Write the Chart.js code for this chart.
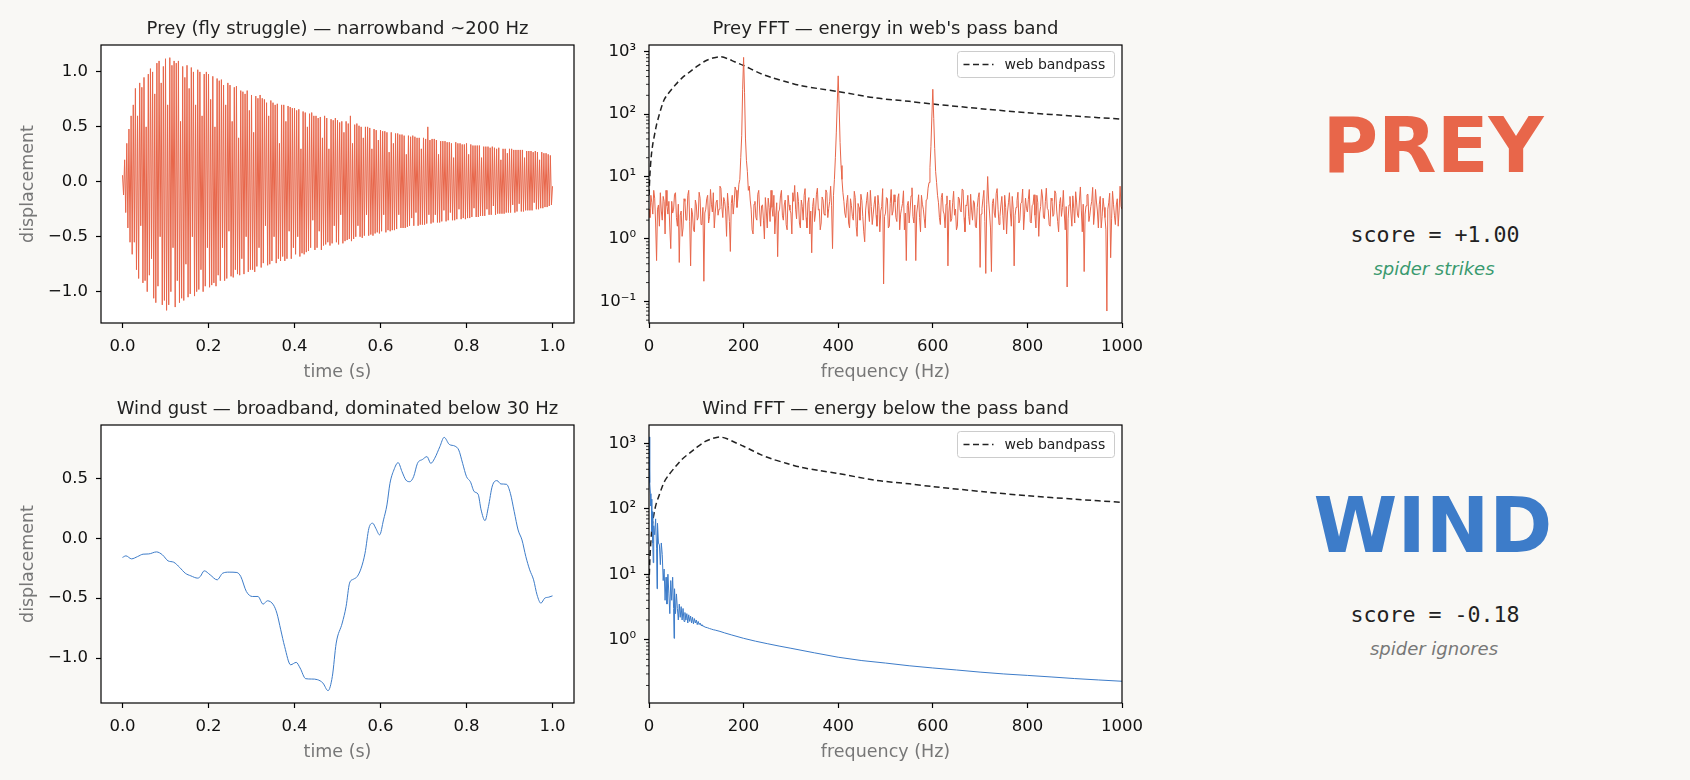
<!DOCTYPE html>
<html>
<head>
<meta charset="utf-8">
<script src="https://cdn.jsdelivr.net/npm/chart.js@4.4.0/dist/chart.umd.min.js"></script>
<style>
  body { margin: 0; width: 1690px; height: 780px; overflow: hidden; position: relative; background: #f9f8f5; font-family: "DejaVu Sans", sans-serif; }
  canvas { position: absolute; }
  .txt { position: absolute; white-space: nowrap; line-height: 1; transform: translateX(-50%); }
  .big { font-weight: bold; font-size: 76px; }
  .score { font-family: "DejaVu Sans Mono", monospace; font-size: 21.6px; color: #222; }
  .verdict { font-style: italic; font-size: 18px; }
</style>
</head>
<body>

<canvas id="prey-time" width="600" height="390" style="left:0;top:0"></canvas>
<canvas id="prey-fft" width="560" height="390" style="left:600px;top:0"></canvas>
<canvas id="wind-time" width="600" height="390" style="left:0;top:380px"></canvas>
<canvas id="wind-fft" width="560" height="390" style="left:600px;top:380px"></canvas>

<!-- verdict column -->
<div class="txt big" style="left:1433px;top:108px;color:#e8664a">PREY</div>
<div class="txt score" style="left:1435px;top:224px">score = +1.00</div>
<div class="txt verdict" style="left:1434px;top:260px;color:#3a9a6f">spider strikes</div>
<div class="txt big" style="left:1433px;top:488px;color:#3d7cc9">WIND</div>
<div class="txt score" style="left:1435px;top:604px">score = -0.18</div>
<div class="txt verdict" style="left:1434px;top:640px;color:#777">spider ignores</div>

<script>
// ---------- data ----------

// prey struggle: alternating crest / trough, one every 2.5 ms
const preyWave = [
  0.06, -0.12, 0.2, -0.28, 0.35, -0.42, 0.48, -0.55, 0.6, -0.66,
  0.7, -0.55, 0.85, -0.8, 0.6, -0.88, 0.9, -0.4, 0.86, -0.92,
  0.95, -0.9, 0.5, -1.0, 0.98, -0.85, 1.03, -0.7, 1.0, -1.06,
  0.8, -1.1, 1.08, -0.95, 1.1, -0.5, 0.9, -1.12, 1.05, -1.08,
  1.12, -1.17, 0.7, -1.12, 1.13, -1.0, 1.06, -0.6, 1.1, -1.14,
  1.08, -0.9, 1.1, -1.1, 0.55, -1.06, 1.05, -1.08, 0.95, -0.75,
  1.06, -1.05, 0.85, -1.02, 1.04, -0.5, 1.0, -1.04, 0.7, -1.0,
  1.02, -0.98, 1.0, -0.8, 0.6, -1.0, 0.98, -0.95, 1.0, -0.6,
  0.98, -0.96, 0.75, -0.94, 0.96, -0.92, 0.5, -0.95, 0.94, -0.85,
  0.92, -0.9, 0.93, -0.6, 0.88, -0.9, 0.7, -0.88, 0.9, -0.45,
  0.88, -0.86, 0.55, -0.87, 0.86, -0.8, 0.87, -0.84, 0.4, -0.85,
  0.83, -0.7, 0.82, -0.84, 0.8, -0.5, 0.83, -0.82, 0.65, -0.8,
  0.79, -0.8, 0.45, -0.82, 0.78, -0.77, 0.76, -0.6, 0.79, -0.78,
  0.76, -0.74, 0.75, -0.4, 0.72, -0.76, 0.6, -0.75, 0.74, -0.72,
  0.72, -0.5, 0.7, -0.74, 0.71, -0.7, 0.35, -0.72, 0.7, -0.68,
  0.7, -0.72, 0.55, -0.7, 0.69, -0.45, 0.68, -0.7, 0.67, -0.6,
  0.67, -0.66, 0.65, -0.5, 0.66, -0.68, 0.3, -0.65, 0.64, -0.66,
  0.63, -0.64, 0.5, -0.63, 0.62, -0.6, 0.63, -0.35, 0.6, -0.62,
  0.6, -0.6, 0.58, -0.45, 0.59, -0.62, 0.4, -0.58, 0.6, -0.57,
  0.58, -0.55, 0.3, -0.58, 0.57, -0.56, 0.56, -0.4, 0.58, -0.55,
  0.56, -0.57, 0.54, -0.3, 0.55, -0.56, 0.45, -0.54, 0.55, -0.53,
  0.53, -0.52, 0.6, -0.54, 0.35, -0.52, 0.52, -0.5, 0.53, -0.4,
  0.51, -0.5, 0.5, -0.51, 0.4, -0.49, 0.5, -0.3, 0.5, -0.49,
  0.49, -0.48, 0.3, -0.49, 0.48, -0.47, 0.47, -0.46, 0.38, -0.47,
  0.47, -0.45, 0.46, -0.3, 0.46, -0.46, 0.45, -0.44, 0.27, -0.45,
  0.45, -0.44, 0.35, -0.44, 0.44, -0.43, 0.44, -0.3, 0.43, -0.42,
  0.43, -0.42, 0.42, -0.42, 0.25, -0.41, 0.42, -0.4, 0.41, -0.33,
  0.42, -0.4, 0.41, -0.28, 0.4, -0.4, 0.4, -0.39, 0.3, -0.39,
  0.4, -0.39, 0.39, -0.38, 0.5, -0.3, 0.38, -0.38, 0.39, -0.37,
  0.39, -0.3, 0.38, -0.37, 0.25, -0.37, 0.37, -0.36, 0.37, -0.26,
  0.37, -0.36, 0.36, -0.35, 0.36, -0.28, 0.35, -0.35, 0.22, -0.35,
  0.36, -0.34, 0.35, -0.25, 0.35, -0.34, 0.34, -0.33, 0.34, -0.34,
  0.35, -0.33, 0.25, -0.33, 0.34, -0.32, 0.33, -0.24, 0.33, -0.32,
  0.33, -0.32, 0.33, -0.31, 0.22, -0.31, 0.32, -0.31, 0.32, -0.25,
  0.32, -0.3, 0.31, -0.3, 0.32, -0.22, 0.31, -0.3, 0.3, -0.29,
  0.31, -0.29, 0.2, -0.29, 0.3, -0.29, 0.3, -0.28, 0.26, -0.28,
  0.3, -0.28, 0.3, -0.21, 0.29, -0.28, 0.29, -0.27, 0.29, -0.2,
  0.29, -0.27, 0.29, -0.27, 0.22, -0.26, 0.28, -0.26, 0.28, -0.26,
  0.28, -0.26, 0.27, -0.19, 0.28, -0.25, 0.27, -0.25, 0.2, -0.24,
  0.27, -0.24, 0.26, -0.23, 0.26, -0.23, 0.25, -0.22, 0.24, -0.21,
  -0.04
];
const preyStep = 0.0025; // seconds between the points above

// prey spectrum, one value every 2 Hz from 0 to 1000
const preyFft = [
  3, 2.2, 5, 3.8, 2.5, 6, 4.5, 1.8, 0.45, 3, 3.5, 1.6, 5.5, 2.8, 2, 4.8, 4, 1.2, 6, 3.4,
  2.5, 4, 1.5, 0.7, 4, 2.6, 3, 5.2, 5.5, 2.2, 1.6, 3.6, 0.42, 2.4, 2.8, 1.1, 1.5, 4.4, 4, 2,
  2, 5, 6, 1.9, 0.37, 3.1, 2.5, 1.4, 1.3, 4.2, 3.5, 2, 2.2, 5.6, 4.5, 1.7, 1.8, 3.2, 0.21, 2.6,
  3, 4.4, 5, 1.8, 2.3, 6.2, 3.6, 2.7, 5.5, 1.5, 2.6, 3.9, 4.2, 2.4, 3, 7, 6.5, 3.3, 2.2, 4.6,
  4, 2.8, 1.1, 5.4, 3.4, 1.9, 0.63, 3.7, 5, 2.5, 3.8, 6.8, 6, 3.2, 4.5, 7.5, 9, 20, 45, 250,
  810, 220, 40, 18, 12, 6, 7, 4.2, 3, 1.4, 1.2, 3.6, 4, 2.2, 2, 5.2, 6, 2.8, 1.6, 3.4,
  3.5, 2, 1, 4.6, 2.8, 1.5, 4.5, 3.2, 1.9, 6, 3.2, 2.3, 5, 1.2, 2.4, 3.8, 0.52, 2.7, 3, 4.9,
  6, 2.4, 2, 3.5, 4.2, 1.7, 1.4, 5, 3.5, 2.9, 2.6, 1.2, 5.5, 4, 7.2, 3, 2.1, 5.6, 4, 1.8,
  1.5, 4.2, 3.3, 2, 5, 6.4, 2.2, 1.5, 3.8, 4.6, 1.2, 2.8, 0.6, 3.3, 4.5, 1.9, 2.6, 5.2, 6.5, 2.9,
  3, 1.4, 1.8, 4.7, 4.2, 2.5, 2.4, 6.1, 5.5, 2.2, 3.1, 4, 7, 3.4, 0.7, 5, 9, 20, 50, 150,
  410, 130, 35, 15, 9, 5.5, 4, 2.6, 2.2, 3.8, 5, 1.8, 1.5, 4.4, 3.4, 2.3, 2, 5.8, 4.6, 1.6,
  1.1, 3.7, 3.2, 2, 5.2, 4.1, 2.3, 1.3, 0.9, 2.9, 4.1, 5.6, 2.7, 1.9, 6, 3.3, 1.7, 2.5, 3.6, 4.8,
  2.4, 1.6, 5, 3.4, 1.3, 2.8, 3.3, 6.4, 0.19, 2.3, 2.6, 4.6, 4.4, 1.5, 1.6, 3.7, 6.2, 2.4, 2.8, 5.1,
  3.9, 2.2, 1.9, 4.5, 5.3, 1.4, 2.5, 3.1, 3.7, 5.9, 1.4, 2.6, 0.45, 3.4, 4, 1.8, 2.9, 4.9, 6.6, 2.3,
  1.8, 3.5, 0.45, 2.6, 3.5, 5.1, 2.2, 1.3, 5, 3.6, 3, 2.1, 1.5, 4.2, 4.3, 6.5, 8, 14, 30, 90,
  250, 85, 28, 12, 8, 5, 3.8, 2.2, 1.7, 4.6, 5.4, 2.8, 2.5, 1.5, 3.6, 4.9, 0.37, 2.7, 4.2, 1.9,
  2.1, 3.8, 5.8, 2.4, 3, 1.4, 1.6, 4.7, 4.4, 2.9, 2.7, 6.3, 6.1, 2.2, 1.3, 3.5, 3.4, 5, 2.3, 1.7,
  5.2, 2.9, 2, 4.1, 3.8, 1.6, 1.5, 3.2, 4.6, 5.5, 0.35, 2.5, 3.1, 4.4, 6, 1.9, 0.28, 3.6, 10, 4.2,
  2.6, 1.5, 0.3, 3.7, 4.4, 2.6, 2.2, 5.3, 6.4, 3, 1.7, 2.3, 3.5, 4.8, 2.4, 1.4, 5, 3.2, 1.2, 2.7,
  3.8, 5.5, 2.6, 1.6, 4.8, 3, 0.37, 2.4, 3.2, 4.1, 5.6, 1.8, 2, 3.7, 3.9, 6.3, 1.4, 2.5, 4.5, 3.1,
  2.7, 4.3, 6.2, 1.9, 1.8, 3.4, 3.6, 5.1, 2.4, 1.5, 5, 3.8, 1.1, 2.6, 3.3, 6.2, 4.7, 2.2, 2.1, 4,
  6.5, 3.1, 2.9, 1.7, 1.6, 4.5, 4.1, 2.3, 2.5, 5.9, 5.4, 2.8, 1.9, 1.3, 3.7, 4.6, 2.3, 3.2, 6, 2.6,
  1.4, 3.3, 0.17, 2.1, 3.5, 4.8, 2.6, 1.6, 4.9, 3.1, 1.8, 5.7, 3.9, 2.4, 2.2, 4.2, 6.8, 2.9, 1.3, 3.6,
  0.3, 2.5, 3.4, 5.1, 5.2, 1.9, 2.4, 3.3, 4, 6.7, 1.7, 2.6, 6.2, 3.9, 2.8, 1.5, 3.6, 4.8, 1.5, 2.3,
  4.5, 3.2, 2.2, 1.4, 0.07, 3, 3.8, 5.4, 0.5, 2.1, 5.8, 3.6, 2.4, 1.7, 3.5, 4.4, 1.6, 2.9, 7, 3.3,
  3
];
const preyFftStep = 2; // Hz

// wind gust trace
const windTime = [
  0, 0.008, 0.021, 0.035, 0.048, 0.061, 0.079, 0.093, 0.106, 0.119,
  0.133, 0.146, 0.159, 0.175, 0.181, 0.19, 0.204, 0.22, 0.233, 0.248,
  0.266, 0.275, 0.288, 0.302, 0.315, 0.327, 0.337, 0.351, 0.359, 0.368,
  0.377, 0.391, 0.404, 0.413, 0.426, 0.44, 0.453, 0.466, 0.478, 0.488,
  0.497, 0.511, 0.52, 0.528, 0.537, 0.546, 0.555, 0.564, 0.573, 0.582,
  0.589, 0.598, 0.607, 0.615, 0.622, 0.631, 0.641, 0.65, 0.659, 0.668,
  0.677, 0.686, 0.698, 0.708, 0.717, 0.726, 0.738, 0.748, 0.76, 0.773,
  0.782, 0.791, 0.8, 0.809, 0.818, 0.827, 0.834, 0.843, 0.851, 0.86,
  0.871, 0.88, 0.893, 0.902, 0.911, 0.92, 0.929, 0.938, 0.947, 0.956,
  0.964, 0.973, 0.982, 0.991, 1.0
];
const windWave = [
  -0.16, -0.147, -0.172, -0.153, -0.133, -0.131, -0.114, -0.139, -0.189, -0.2,
  -0.244, -0.292, -0.314, -0.333, -0.319, -0.272, -0.306, -0.347, -0.292, -0.283,
  -0.286, -0.319, -0.444, -0.486, -0.486, -0.55, -0.522, -0.556, -0.625, -0.764,
  -0.903, -1.056, -1.036, -1.083, -1.172, -1.175, -1.18, -1.208, -1.272, -1.153,
  -0.875, -0.708, -0.569, -0.375, -0.342, -0.319, -0.25, -0.125, 0.083, 0.125,
  0.083, 0.028, 0.153, 0.278, 0.458, 0.569, 0.631, 0.556, 0.486, 0.472,
  0.514, 0.625, 0.658, 0.681, 0.625, 0.667, 0.764, 0.842, 0.783, 0.769,
  0.736, 0.625, 0.514, 0.472, 0.389, 0.367, 0.236, 0.147, 0.264, 0.436,
  0.481, 0.453, 0.45, 0.375, 0.222, 0.069, -0.014, -0.153, -0.264, -0.347,
  -0.472, -0.542, -0.5, -0.492, -0.481
];

// wind spectrum
const windFreq = [
  0, 1, 2, 3, 4, 5, 6, 7, 8, 9, 10, 12, 14, 16, 17, 18,
  20, 22, 24, 26, 28, 30, 32, 34, 36, 38, 40, 42, 44, 46, 48, 50, 52, 53,
  54, 56, 58, 60, 62, 64, 66, 68, 70, 72, 74, 76, 78, 80, 82, 84, 86, 88,
  90, 92, 94, 96, 98, 100, 102, 104, 106, 108, 110, 112, 114, 116, 118, 120,
  124, 128, 132, 136, 140, 150, 160, 175, 200, 225, 250, 275, 300,
  350, 400, 450, 500, 550, 600, 650, 700, 750, 800, 850, 900, 950, 1000
];
const windFft = [
  1250, 600, 250, 170, 110, 140, 45, 90, 30, 15, 55, 40, 70, 25, 6, 60,
  30, 28, 14, 30, 20, 8, 12, 4, 9, 3.5, 10, 5, 2.5, 8, 4, 9, 3, 1.05,
  6, 2.5, 5, 3, 2, 3.5, 2.2, 3.2, 2.0, 3.0, 1.9, 2.6, 2.0, 2.5, 1.8, 2.4, 1.9, 2.3,
  1.8, 2.2, 1.75, 2.1, 1.8, 2.0, 1.7, 1.9, 1.7, 1.8, 1.65, 1.7, 1.6, 1.62, 1.55, 1.55,
  1.52, 1.48, 1.45, 1.42, 1.4, 1.34, 1.27, 1.18, 1.05, 0.95, 0.87, 0.8, 0.74,
  0.63, 0.54, 0.48, 0.44, 0.40, 0.37, 0.345, 0.32, 0.30, 0.285, 0.27, 0.255, 0.243, 0.232
];

// web bandpass (dashed curve) for each panel
const bandFreq = [0, 2, 5, 8, 12, 16, 20, 25, 32, 40, 56, 70, 87, 100, 119, 135, 150, 165, 181,
                  200, 213, 235, 259, 290, 322, 360, 400, 478, 550, 600, 713, 800, 900, 1000];
const bandPrey = [5, 11, 22, 33, 48, 68, 88, 120, 170, 210, 295, 380, 480, 570, 710, 790, 830, 780, 690,
                  600, 540, 450, 385, 330, 285, 255, 230, 182, 160, 145, 120, 105, 93, 83];
const bandWind = [7, 18, 40, 65, 95, 125, 150, 190, 255, 315, 440, 570, 720, 855, 1065, 1185, 1245, 1170, 1035,
                  900, 810, 675, 578, 495, 428, 383, 345, 273, 240, 218, 180, 158, 140, 125];

const timeTicks = [0, 0.2, 0.4, 0.6, 0.8, 1.0];
const freqTicks = [0, 200, 400, 600, 800, 1000];
const preyTicks = [-1, -0.5, 0, 0.5, 1];
const windTicks = [-1, -0.5, 0, 0.5];

// ---------- helpers ----------
const PREY = '#e8664a';
const WIND = '#3d7cc9';
Chart.defaults.font.family = '"DejaVu Sans", sans-serif';

function pairs(xs, ys) { return ys.map((y, i) => ({x: xs[i], y: y})); }

const sup = {'-': '\u207b', '0': '\u2070', '1': '\u00b9', '2': '\u00b2', '3': '\u00b3'};
function powLabel(v) {
  const e = String(Math.round(Math.log10(v)));
  return '10' + e.split('').map(c => sup[c]).join('');
}
function minorTicks(lo, hi) {
  const out = [];
  for (let d = -2; d <= 3; d++) for (let m = 2; m <= 9; m++) {
    const v = m * Math.pow(10, d);
    if (v >= lo && v <= hi) out.push(v);
  }
  return out;
}

// matplotlib-ish frame, centred title, minor ticks and the legend box
const frame = {
  id: 'frame',
  beforeDraw(chart) {
    const a = chart.chartArea, ctx = chart.ctx;
    ctx.save();
    ctx.fillStyle = '#fff';
    ctx.fillRect(a.left, a.top, a.right - a.left, a.bottom - a.top);
    ctx.restore();
  },
  afterDraw(chart, args, opts) {
    const a = chart.chartArea, ctx = chart.ctx;
    ctx.save();
    ctx.strokeStyle = '#000';
    // minor ticks on the log axis
    if (opts.minor) {
      const ys = chart.scales.y;
      ctx.lineWidth = 0.8;
      opts.minor.forEach(v => {
        const py = ys.getPixelForValue(v);
        ctx.beginPath(); ctx.moveTo(a.left, py); ctx.lineTo(a.left - 3, py); ctx.stroke();
      });
    }
    ctx.lineWidth = 1.2;
    ctx.strokeRect(a.left, a.top, a.right - a.left, a.bottom - a.top);
    // title
    ctx.fillStyle = '#222';
    ctx.font = '18px "DejaVu Sans"';
    ctx.textAlign = 'center';
    ctx.textBaseline = 'alphabetic';
    ctx.fillText(opts.title, (a.left + a.right) / 2, a.top - 11);
    // legend
    if (opts.legend) {
      const ds = chart.data.datasets[1];
      const w = 157, h = 26, bx = a.right - 7.5 - w, by = a.top + 6.5;
      ctx.beginPath();
      ctx.roundRect(bx, by, w, h, 3);
      ctx.fillStyle = 'rgba(255,255,255,0.8)';
      ctx.fill();
      ctx.strokeStyle = '#cccccc';
      ctx.lineWidth = 1;
      ctx.stroke();
      ctx.beginPath();
      ctx.setLineDash(ds.borderDash);
      ctx.strokeStyle = ds.borderColor;
      ctx.lineWidth = ds.borderWidth;
      ctx.moveTo(bx + 6, by + h / 2); ctx.lineTo(bx + 36, by + h / 2); ctx.stroke();
      ctx.setLineDash([]);
      ctx.fillStyle = '#222';
      ctx.font = '14px "DejaVu Sans"';
      ctx.textAlign = 'left';
      ctx.textBaseline = 'middle';
      ctx.fillText(ds.label, bx + 47, by + h / 2 + 1);
    }
    ctx.restore();
  }
};

function tickGrid() {
  return { display: true, drawOnChartArea: false, drawTicks: true, tickLength: 5, tickWidth: 1.2, tickColor: '#000' };
}

function xAxis(min, max, ticks, title, dec) {
  return {
    type: 'linear', min: min, max: max,
    afterBuildTicks: s => { s.ticks = ticks.map(v => ({value: v})); },
    afterFit: s => { s.height = 67; },
    grid: tickGrid(),
    border: { display: false },
    ticks: { padding: 9, color: '#111', font: { size: 16.5 }, maxRotation: 0, autoSkip: false,
             callback: v => dec ? v.toFixed(dec) : String(v) },
    title: { display: true, text: title, color: '#777', font: { size: 17.5 }, padding: { top: 0, bottom: 7 } }
  };
}

function yLinear(min, max, ticks) {
  return {
    type: 'linear', min: min, max: max,
    afterBuildTicks: s => { s.ticks = ticks.map(v => ({value: v})); },
    afterFit: s => { s.width = 101; },
    grid: tickGrid(),
    border: { display: false },
    ticks: { padding: 8, color: '#111', font: { size: 16.5 }, autoSkip: false,
             callback: v => v.toFixed(1).replace('-', '\u2212') },
    title: { display: true, text: 'displacement', color: '#777', font: { size: 17.5 }, padding: { top: 18, bottom: 0 } }
  };
}

function yLog(min, max, ticks) {
  return {
    type: 'logarithmic', min: min, max: max,
    afterBuildTicks: s => { s.ticks = ticks.map(v => ({value: v})); },
    afterFit: s => { s.width = 49; },
    grid: tickGrid(),
    border: { display: false },
    ticks: { padding: 8, color: '#111', font: { size: 16.5 }, autoSkip: false, callback: v => powLabel(v) }
  };
}

function baseOptions(x, y, plug, right) {
  return {
    responsive: false,
    animation: false,
    layout: { padding: { left: 0, top: 45, right: right, bottom: 0 } },
    scales: { x: x, y: y },
    plugins: { legend: { display: false }, tooltip: { enabled: false }, frame: plug }
  };
}

// ---------- prey, time ----------
new Chart(document.getElementById('prey-time'), {
  type: 'line',
  data: { datasets: [{
    data: pairs(preyWave.map((v, i) => i * preyStep), preyWave),
    borderColor: PREY, borderWidth: 1, pointRadius: 0, tension: 0
  }]},
  options: baseOptions(xAxis(-0.05, 1.05, timeTicks, 'time (s)', 1), yLinear(-1.285, 1.245, preyTicks),
                       { title: 'Prey (fly struggle) \u2014 narrowband ~200 Hz' }, 26),
  plugins: [frame]
});

// ---------- prey, spectrum ----------
new Chart(document.getElementById('prey-fft'), {
  type: 'line',
  data: { datasets: [
    { data: pairs(preyFft.map((v, i) => i * preyFftStep), preyFft),
      borderColor: PREY, borderWidth: 1, pointRadius: 0, tension: 0 },
    { label: 'web bandpass', data: pairs(bandFreq, bandPrey),
      borderColor: '#222', borderWidth: 1.5, borderDash: [6, 3.5], pointRadius: 0, tension: 0.3 }
  ]},
  options: baseOptions(xAxis(0, 1000, freqTicks, 'frequency (Hz)', 0), yLog(0.045, 1280, [0.1, 1, 10, 100, 1000]),
                       { title: 'Prey FFT \u2014 energy in web\'s pass band', legend: true, minor: minorTicks(0.045, 1280) }, 38),
  plugins: [frame]
});

// ---------- wind, time ----------
new Chart(document.getElementById('wind-time'), {
  type: 'line',
  data: { datasets: [{
    data: pairs(windTime, windWave),
    borderColor: WIND, borderWidth: 1, pointRadius: 0, cubicInterpolationMode: 'monotone'
  }]},
  options: baseOptions(xAxis(-0.05, 1.05, timeTicks, 'time (s)', 1), yLinear(-1.375, 0.945, windTicks),
                       { title: 'Wind gust \u2014 broadband, dominated below 30 Hz' }, 26),
  plugins: [frame]
});

// ---------- wind, spectrum ----------
new Chart(document.getElementById('wind-fft'), {
  type: 'line',
  data: { datasets: [
    { data: pairs(windFreq, windFft), borderColor: WIND, borderWidth: 1, pointRadius: 0, tension: 0 },
    { label: 'web bandpass', data: pairs(bandFreq, bandWind),
      borderColor: '#222', borderWidth: 1.5, borderDash: [6, 3.5], pointRadius: 0, tension: 0.3 }
  ]},
  options: baseOptions(xAxis(0, 1000, freqTicks, 'frequency (Hz)', 0), yLog(0.108, 1900, [1, 10, 100, 1000]),
                       { title: 'Wind FFT \u2014 energy below the pass band', legend: true, minor: minorTicks(0.108, 1900) }, 38),
  plugins: [frame]
});
</script>
</body>
</html>
